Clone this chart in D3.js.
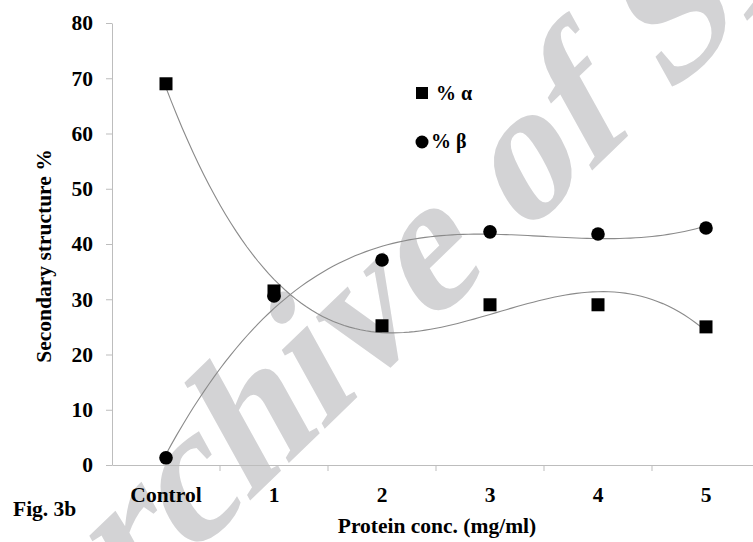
<!DOCTYPE html>
<html>
<head>
<meta charset="utf-8">
<script src="https://cdn.jsdelivr.net/npm/d3@7"></script>
<style>
  body { margin: 0; background: #fff; }
</style>
</head>
<body>
<div id="chart"></div>
<script>
// categories and values
const categories = ["Control", "1", "2", "3", "4", "5"];
const alphaValues = [69, 31.5, 25.2, 29, 29, 25];
const betaValues = [1.3, 30.6, 37.1, 42.2, 41.8, 42.9];
const yTicks = [0, 10, 20, 30, 40, 50, 60, 70, 80];

const width = 753, height = 542;
const margin = { top: 23, right: -7, bottom: 77, left: 112 };
const serif = '"Liberation Serif", "Times New Roman", serif';

// least squares polynomial (Excel style trendline, order 3)
function polyFit(ys, degree) {
  const n = degree + 1;
  const A = [], b = [];
  for (let r = 0; r < n; r++) {
    A.push(new Array(n).fill(0));
    b.push(0);
  }
  ys.forEach((y, i) => {
    for (let r = 0; r < n; r++) {
      for (let c = 0; c < n; c++) A[r][c] += Math.pow(i, r + c);
      b[r] += y * Math.pow(i, r);
    }
  });
  // gauss elimination
  for (let k = 0; k < n; k++) {
    for (let r = k + 1; r < n; r++) {
      const f = A[r][k] / A[k][k];
      for (let c = k; c < n; c++) A[r][c] -= f * A[k][c];
      b[r] -= f * b[k];
    }
  }
  const coef = new Array(n).fill(0);
  for (let r = n - 1; r >= 0; r--) {
    let s = b[r];
    for (let c = r + 1; c < n; c++) s -= A[r][c] * coef[c];
    coef[r] = s / A[r][r];
  }
  return x => coef.reduce((acc, a, p) => acc + a * Math.pow(x, p), 0);
}

function boldText(sel, size) {
  return sel.style("font-family", serif).style("font-weight", "bold")
    .style("font-size", size + "px").attr("fill", "#000");
}

const svg = d3.select("#chart").append("svg")
  .attr("width", width).attr("height", height);

// watermark (skewed bold serif, italic face not installed)
svg.append("text")
  .attr("transform", "translate(462,296) rotate(-44) skewX(-15)")
  .attr("text-anchor", "middle")
  .style("font-family", serif)
  .style("font-weight", "bold")
  .style("font-size", "188px")
  .style("fill", "#d3d3d5")
  .text("Archive of SID");

const x = d3.scaleBand().domain(categories)
  .range([margin.left, width - margin.right]).padding(0);
const y = d3.scaleLinear().domain([0, 80])
  .range([height - margin.bottom, margin.top]);
const xIdx = d3.scaleLinear().domain([0, categories.length - 1])
  .range([x(categories[0]) + x.bandwidth() / 2, x(categories[categories.length - 1]) + x.bandwidth() / 2]);

// y axis
const yAxis = d3.axisLeft(y).tickValues(yTicks).tickSize(6).tickPadding(13).tickSizeOuter(0);
const yg = svg.append("g").attr("transform", `translate(${margin.left},0)`).call(yAxis);
yg.select(".domain").attr("stroke", "#bdbdbd");
yg.selectAll(".tick line").attr("stroke", "#bdbdbd");
boldText(yg.selectAll(".tick text"), 21.5);

// x axis
const xAxis = d3.axisBottom(x).tickSize(0).tickPadding(22);
const xg = svg.append("g").attr("transform", `translate(0,${y(0)})`).call(xAxis);
xg.select(".domain").attr("stroke", "#bdbdbd");
boldText(xg.selectAll(".tick text"), 21.5);
// ticks between the categories
xg.selectAll(".sep").data(categories.slice(1)).join("line")
  .attr("class", "sep")
  .attr("x1", d => x(d)).attr("x2", d => x(d))
  .attr("y1", 0).attr("y2", 6)
  .attr("stroke", "#bdbdbd");

// trend lines
const line = d3.line().x(d => xIdx(d[0])).y(d => y(d[1]));
[alphaValues, betaValues].forEach(vals => {
  const f = polyFit(vals, 3);
  const pts = d3.range(0, 5.0001, 0.05).map(t => [t, f(t)]);
  svg.append("path").attr("d", line(pts))
    .attr("fill", "none").attr("stroke", "#8a8a8a").attr("stroke-width", 1.1);
});

// markers
const sq = 13;
svg.append("g").selectAll("rect").data(alphaValues).join("rect")
  .attr("x", (d, i) => xIdx(i) - sq / 2)
  .attr("y", d => y(d) - sq / 2)
  .attr("width", sq).attr("height", sq)
  .attr("fill", "#000");
svg.append("g").selectAll("circle").data(betaValues).join("circle")
  .attr("cx", (d, i) => xIdx(i))
  .attr("cy", d => y(d))
  .attr("r", 6.8)
  .attr("fill", "#000");

// legend
svg.append("rect").attr("x", 416).attr("y", 87).attr("width", 12).attr("height", 12).attr("fill", "#000");
boldText(svg.append("text").attr("x", 436).attr("y", 100), 20).text("% α");
svg.append("circle").attr("cx", 422).attr("cy", 142).attr("r", 6.5).attr("fill", "#000");
boldText(svg.append("text").attr("x", 431).attr("y", 148), 20).text("% β");

// axis titles
boldText(svg.append("text")
  .attr("transform", "translate(51,256) rotate(-90)")
  .attr("text-anchor", "middle"), 21.5)
  .text("Secondary structure %");
boldText(svg.append("text")
  .attr("x", 437).attr("y", 533)
  .attr("text-anchor", "middle"), 21.5)
  .text("Protein conc. (mg/ml)");
boldText(svg.append("text").attr("x", 13).attr("y", 516), 21.5)
  .text("Fig. 3b");
</script>
</body>
</html>
